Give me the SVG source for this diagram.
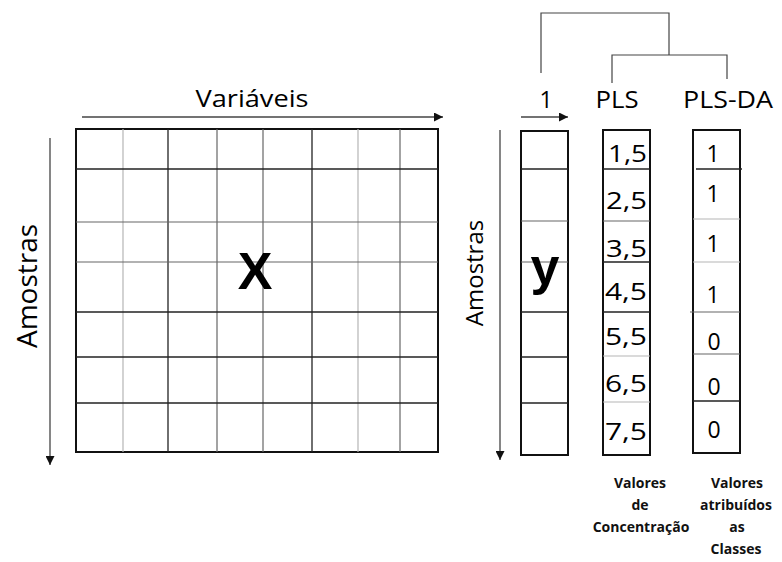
<svg xmlns="http://www.w3.org/2000/svg" width="782" height="562" viewBox="0 0 782 562">
<style>
.lbl{font-family:"Open Sans","Liberation Sans",sans-serif;fill:#000}
.big{font-family:"Liberation Sans",Arial,sans-serif;font-weight:bold;fill:#000}
.cap{font-family:"Open Sans","Liberation Sans",sans-serif;font-weight:bold;font-size:14px;fill:#111;text-anchor:middle}
.num{font-family:"Open Sans","Liberation Sans",sans-serif;font-size:23px;fill:#000}
.box{fill:#fff;stroke:#111;stroke-width:2}
.dk{stroke:#222;stroke-width:1.3}
.md{stroke:#666;stroke-width:1.2}
.lt{stroke:#b5b5b5;stroke-width:1.2}
.ax{stroke:#444;stroke-width:1.3;fill:none}
.br{stroke:#444;stroke-width:1.2;fill:none}
</style>
<defs>
<marker id="ah" viewBox="0 0 10 10" refX="10" refY="5" markerWidth="10" markerHeight="9" markerUnits="userSpaceOnUse" orient="auto">
<path d="M0,0 L10,5 L0,10 Z" fill="#111"/>
</marker>
</defs>
<rect width="782" height="562" fill="#fff"/>

<g id="matrix-X">
<rect class="box" x="76" y="129" width="362" height="323"/>
<line class="lt" x1="123" y1="129" x2="123" y2="452"/>
<line class="dk" x1="168" y1="129" x2="168" y2="452"/>
<line class="md" x1="217" y1="129" x2="217" y2="452"/>
<line class="md" x1="263" y1="129" x2="263" y2="452"/>
<line class="dk" x1="312" y1="129" x2="312" y2="452"/>
<line class="lt" x1="358" y1="129" x2="358" y2="452"/>
<line class="md" x1="400" y1="129" x2="400" y2="452"/>
<line class="dk" x1="76" y1="169" x2="438" y2="169"/>
<line class="md" x1="76" y1="222" x2="438" y2="222"/>
<line class="md" x1="76" y1="262" x2="438" y2="262"/>
<line class="dk" x1="76" y1="312" x2="438" y2="312"/>
<line class="dk" x1="76" y1="357" x2="438" y2="357"/>
<line class="dk" x1="76" y1="403" x2="438" y2="403"/>
<text class="big" x="255" y="289" font-size="52" text-anchor="middle">X</text>
</g>

<g id="vector-y">
<rect class="box" x="521" y="131" width="47" height="324"/>
<line class="dk" x1="521" y1="169" x2="568" y2="169"/>
<line class="md" x1="521" y1="221" x2="568" y2="221"/>
<line class="md" x1="521" y1="262" x2="568" y2="262"/>
<line class="dk" x1="521" y1="312" x2="568" y2="312"/>
<line class="dk" x1="521" y1="357" x2="568" y2="357"/>
<line class="dk" x1="521" y1="403" x2="568" y2="403"/>
<text class="big" x="545" y="284" font-size="52" text-anchor="middle">y</text>
</g>

<g id="col-PLS">
<rect class="box" x="603" y="130" width="47" height="325"/>
<line class="dk" x1="603" y1="169" x2="650" y2="169"/>
<line class="md" x1="603" y1="221" x2="650" y2="221"/>
<line class="dk" x1="603" y1="262" x2="650" y2="262"/>
<line class="dk" x1="603" y1="312" x2="650" y2="312"/>
<line class="lt" x1="603" y1="356" x2="650" y2="356"/>
<line class="lt" x1="603" y1="402" x2="650" y2="402"/>
<text class="num" x="608" y="162" textLength="39" lengthAdjust="spacingAndGlyphs">1,5</text>
<text class="num" x="606" y="209" textLength="41" lengthAdjust="spacingAndGlyphs">2,5</text>
<text class="num" x="606" y="257" textLength="41" lengthAdjust="spacingAndGlyphs">3,5</text>
<text class="num" x="605" y="300" textLength="42" lengthAdjust="spacingAndGlyphs">4,5</text>
<text class="num" x="605" y="345" textLength="42" lengthAdjust="spacingAndGlyphs">5,5</text>
<text class="num" x="605" y="392" textLength="42" lengthAdjust="spacingAndGlyphs">6,5</text>
<text class="num" x="605" y="440" textLength="42" lengthAdjust="spacingAndGlyphs">7,5</text>
</g>

<g id="col-PLS-DA">
<rect class="box" x="693" y="130" width="47" height="323"/>
<line class="dk" x1="696" y1="169" x2="742" y2="169"/>
<line class="lt" x1="693" y1="219" x2="740" y2="219"/>
<line class="lt" x1="693" y1="262" x2="740" y2="262"/>
<line class="md" x1="690" y1="312" x2="740" y2="312"/>
<line class="md" x1="693" y1="354" x2="740" y2="354"/>
<line class="dk" x1="693" y1="401" x2="740" y2="401"/>
<text class="num" x="713" y="162" text-anchor="middle">1</text>
<text class="num" x="713" y="202" text-anchor="middle">1</text>
<text class="num" x="713" y="252" text-anchor="middle">1</text>
<text class="num" x="713" y="303" text-anchor="middle">1</text>
<text class="num" x="714" y="350" text-anchor="middle">0</text>
<text class="num" x="714" y="395" text-anchor="middle">0</text>
<text class="num" x="714" y="438" text-anchor="middle">0</text>
</g>

<g id="labels">
<text class="lbl" x="252" y="107" font-size="24" text-anchor="middle" textLength="113" lengthAdjust="spacingAndGlyphs">Variáveis</text>
<text class="lbl" x="0" y="0" font-size="28" text-anchor="middle" transform="translate(37,286) rotate(-90)">Amostras</text>
<text class="lbl" x="0" y="0" font-size="24" text-anchor="middle" transform="translate(483,273) rotate(-90)">Amostras</text>
<text class="lbl" x="546" y="108" font-size="23" text-anchor="middle">1</text>
<text class="lbl" x="617" y="108" font-size="23" text-anchor="middle" textLength="43" lengthAdjust="spacingAndGlyphs">PLS</text>
<text class="lbl" x="728" y="108" font-size="23" text-anchor="middle" textLength="90" lengthAdjust="spacingAndGlyphs">PLS-DA</text>
<text class="cap" x="640" y="488">Valores</text>
<text class="cap" x="640" y="510">de</text>
<text class="cap" x="641" y="532">Concentração</text>
<text class="cap" x="737" y="488">Valores</text>
<text class="cap" x="736" y="510">atribuídos</text>
<text class="cap" x="737" y="532">as</text>
<text class="cap" x="736" y="554">Classes</text>
</g>

<g id="connectors">
<line class="ax" x1="82" y1="117" x2="443" y2="117" marker-end="url(#ah)"/>
<line class="ax" x1="50" y1="138" x2="50" y2="465" marker-end="url(#ah)"/>
<line class="ax" x1="500" y1="130" x2="500" y2="460" marker-end="url(#ah)"/>
<line class="ax" x1="521" y1="117" x2="568" y2="117" marker-end="url(#ah)"/>
<path class="br" d="M541,73 V13 H669 V55"/>
<path class="br" d="M612,83 V55 H727 V79"/>
</g>
</svg>
